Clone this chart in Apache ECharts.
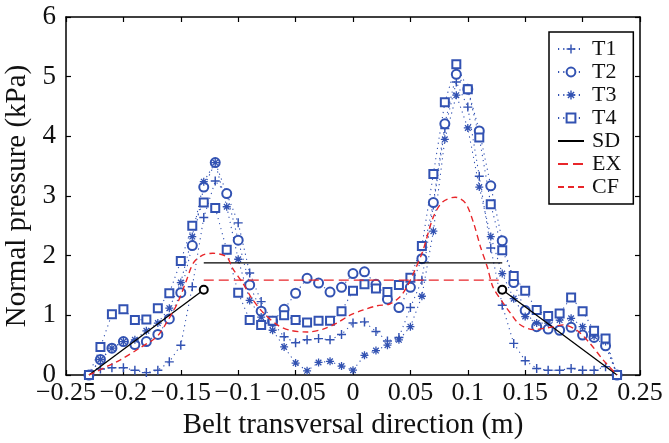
<!DOCTYPE html>
<html>
<head>
<meta charset="utf-8">
<script src="https://cdn.jsdelivr.net/npm/echarts@6/dist/echarts.min.js"></script>
<style>
  html, body { margin: 0; padding: 0; background: #fff; }
  #chart { width: 669px; height: 443px; }
</style>
</head>
<body>
<div id="chart"></div>
<script>
// Measurement positions across the belt (m)
const positions = [-0.23, -0.22, -0.21, -0.20, -0.19, -0.18, -0.17, -0.16, -0.15, -0.14,
  -0.13, -0.12, -0.11, -0.10, -0.09, -0.08, -0.07, -0.06, -0.05, -0.04, -0.03, -0.02, -0.01,
  0.00, 0.01, 0.02, 0.03, 0.04, 0.05, 0.06, 0.07, 0.08, 0.09, 0.10, 0.11, 0.12, 0.13,
  0.14, 0.15, 0.16, 0.17, 0.18, 0.19, 0.20, 0.21, 0.22, 0.23];

// Measured normal pressure (kPa), tests T1..T4
const t1 = [0, 0.10, 0.12, 0.12, 0.08, 0.04, 0.08, 0.22, 0.50, 1.48,
  2.64, 3.25, 3.04, 2.55, 1.71, 1.23, 0.88, 0.64, 0.54, 0.59, 0.61, 0.59, 0.68,
  0.87, 0.89, 0.73, 0.57, 0.63, 1.13, 1.59, 2.85, 4.13, 4.91, 4.49, 3.33, 2.13, 1.17,
  0.53, 0.24, 0.11, 0.08, 0.08, 0.11, 0.08, 0.08, 0.14, 0];
const t2 = [0, 0.26, 0.45, 0.56, 0.51, 0.56, 0.68, 0.94, 1.38, 2.17,
  3.15, 3.56, 3.04, 2.26, 1.51, 1.07, 0.90, 1.10, 1.37, 1.62, 1.54, 1.39, 1.47,
  1.70, 1.73, 1.52, 1.27, 1.13, 1.47, 1.95, 2.89, 4.21, 5.04, 4.79, 4.09, 3.17, 2.25,
  1.55, 1.08, 0.81, 0.77, 0.75, 0.80, 0.67, 0.63, 0.49, 0];
const t3 = [0, 0.26, 0.45, 0.56, 0.59, 0.74, 0.87, 1.12, 1.55, 2.32,
  3.24, 3.56, 2.82, 1.94, 1.25, 0.97, 0.75, 0.47, 0.20, 0.07, 0.21, 0.23, 0.15,
  0.08, 0.33, 0.41, 0.50, 0.59, 0.81, 1.32, 2.41, 3.95, 4.69, 4.14, 3.15, 2.32, 1.70,
  1.28, 0.98, 0.87, 0.87, 0.92, 0.95, 0.81, 0.65, 0.56, 0];
const t4 = [0, 0.47, 1.02, 1.10, 0.92, 0.93, 1.12, 1.37, 1.91, 2.50,
  2.89, 2.80, 2.10, 1.38, 0.92, 0.84, 0.91, 1.00, 0.92, 0.88, 0.91, 0.91, 1.07,
  1.41, 1.52, 1.45, 1.39, 1.51, 1.63, 2.16, 3.37, 4.57, 5.21, 4.79, 3.98, 2.86, 2.09,
  1.66, 1.41, 1.09, 0.99, 1.03, 1.30, 1.07, 0.74, 0.61, 0];

// CF curve samples
const cfX = [-0.23, -0.203, -0.186, -0.171, -0.162, -0.153, -0.145, -0.139, -0.131, -0.122,
  -0.11, -0.105, -0.096, -0.088, -0.078, -0.066, -0.055, -0.04, -0.026, -0.014, -0.003,
  0.009, 0.021, 0.032, 0.041, 0.047, 0.054, 0.061, 0.07, 0.078, 0.089, 0.098, 0.105,
  0.111, 0.117, 0.122, 0.131, 0.137, 0.145, 0.157, 0.172, 0.183, 0.195, 0.206, 0.218, 0.23];
const cfY = [0, 0.25, 0.45, 0.64, 0.89, 1.2, 1.59, 1.88, 2.01, 2.04,
  1.98, 1.79, 1.54, 1.28, 1.04, 0.84, 0.75, 0.72, 0.77, 0.87, 1.0,
  1.09, 1.16, 1.19, 1.31, 1.48, 1.76, 2.09, 2.65, 2.9, 2.98, 2.88, 2.55,
  2.15, 1.81, 1.47, 1.2, 1.04, 0.85, 0.76, 0.8, 0.84, 0.75, 0.54, 0.25, 0];

// SD: edge slopes and plateau; EX: plateau level
const sdEdgeX = [-0.23, -0.13, 0.13, 0.23];
const sdEdgeY = [0, 1.43, 1.43, 0];
const plateauX = [-0.13, 0.13];
const sdLevel = 1.88;
const exLevel = 1.59;

const seriesNames = ['T1', 'T2', 'T3', 'T4', 'SD', 'EX', 'CF'];
const xRange = [-0.25, 0.25];
const yRange = [0, 6];

const BLUE = '#3252b2';
const RED = '#e8262a';
const FONT = '"Liberation Serif", "Times New Roman", serif';

const plusPath = 'path://M4.2,0H5.8V4.2H10V5.8H5.8V10H4.2V5.8H0V4.2H4.2Z';
const starPath = 'path://M0,4.2H10V5.8H0Z M4.2,0H5.8V10H4.2Z ' +
  'M0.93,2.07L2.07,0.93L9.07,7.93L7.93,9.07Z M7.93,0.93L9.07,2.07L2.07,9.07L0.93,7.93Z';

function pairs(xs, ys) { return xs.map((x, i) => [x, ys[i]]); }

function testSeries(name, values, symbol, size) {
  return {
    name, type: 'line', data: pairs(positions, values),
    symbol, symbolSize: size, showAllSymbol: true,
    itemStyle: symbol.startsWith('empty')
      ? { color: BLUE, borderColor: BLUE, borderWidth: 1.2 }
      : { color: BLUE, borderWidth: 0 },
    lineStyle: { color: BLUE, width: 1.1, type: [1.2, 4] },
    emphasis: { disabled: true }, z: 3
  };
}

function fmtX(v) {
  const r = parseFloat(Math.abs(v).toFixed(2));
  return (v < -1e-9 ? '\u2212' : '') + r;
}

const circleMark = { symbol: 'emptyCircle', symbolSize: 8 };
const frameLine = { onZero: false, lineStyle: { color: '#000', width: 1.5 } };
const frameTick = { inside: true, length: 5, lineStyle: { color: '#000', width: 1.2 } };
const hiddenMark = { itemStyle: { opacity: 0 } };

const option = {
  backgroundColor: '#fff',
  animation: false,
  grid: { left: 66, right: 29, top: 17, bottom: 68, containLabel: false, outerBoundsMode: 'none' },
  xAxis: [{
    type: 'value', min: xRange[0], max: xRange[1], interval: 0.05,
    name: 'Belt transversal direction (m)', nameLocation: 'middle', nameGap: 36,
    nameTextStyle: { fontFamily: FONT, fontSize: 29, color: '#111' },
    axisLine: frameLine, axisTick: frameTick,
    axisLabel: { formatter: fmtX, fontFamily: FONT, fontSize: 26, color: '#111', margin: 5,
      hideOverlap: false, showMinLabel: true, showMaxLabel: true },
    splitLine: { show: false }
  }, {
    type: 'value', position: 'top', min: xRange[0], max: xRange[1], interval: 0.05,
    axisLine: frameLine, axisTick: frameTick,
    axisLabel: { show: false }, splitLine: { show: false }
  }],
  yAxis: [{
    type: 'value', min: yRange[0], max: yRange[1], interval: 1,
    name: 'Normal pressure (kPa)', nameLocation: 'middle', nameGap: 27,
    nameTextStyle: { fontFamily: FONT, fontSize: 29, color: '#111' },
    axisLine: Object.assign({ show: true }, frameLine),
    axisTick: Object.assign({ show: true }, frameTick),
    axisLabel: { fontFamily: FONT, fontSize: 27, color: '#111', margin: 10,
      showMinLabel: true, showMaxLabel: true },
    splitLine: { show: false }
  }, {
    type: 'value', position: 'right', min: yRange[0], max: yRange[1], interval: 1,
    axisLine: Object.assign({ show: true }, frameLine),
    axisTick: Object.assign({ show: true }, frameTick),
    axisLabel: { show: false }, splitLine: { show: false }
  }],
  legend: {
    data: seriesNames.map(n => (n === 'SD' || n === 'EX' || n === 'CF')
      ? Object.assign({ name: n }, hiddenMark) : { name: n }),
    orient: 'vertical', left: 549, top: 32,
    backgroundColor: '#fff', borderColor: '#000', borderWidth: 1.5, borderRadius: 0,
    padding: [6, 12, 6, 8],
    itemWidth: 26, itemHeight: 11, itemGap: 1,
    textStyle: { fontFamily: FONT, fontSize: 22, lineHeight: 22, color: '#111', padding: [0, 0, 0, 3] },
    selectedMode: false
  },
  series: [
    testSeries('T1', t1, plusPath, 9),
    testSeries('T2', t2, 'emptyCircle', 9),
    testSeries('T3', t3, starPath, 8),
    testSeries('T4', t4, 'emptyRect', 8),
    {
      name: 'SD', type: 'line', symbol: 'none',
      data: plateauX.map(x => [x, sdLevel]),
      lineStyle: { color: '#000', width: 1.3, type: 'solid' }, itemStyle: { color: '#000' },
      emphasis: { disabled: true }, z: 4
    },
    {
      name: 'SD', type: 'line', symbol: 'none',
      data: [[sdEdgeX[0], sdEdgeY[0]], Object.assign({ value: [sdEdgeX[1], sdEdgeY[1]] }, circleMark)],
      itemStyle: { color: '#000', borderColor: '#000', borderWidth: 1.5 },
      lineStyle: { color: '#000', width: 1.3 }, emphasis: { disabled: true }, z: 4
    },
    {
      name: 'SD', type: 'line', symbol: 'none',
      data: [Object.assign({ value: [sdEdgeX[2], sdEdgeY[2]] }, circleMark), [sdEdgeX[3], sdEdgeY[3]]],
      itemStyle: { color: '#000', borderColor: '#000', borderWidth: 1.5 },
      lineStyle: { color: '#000', width: 1.3 }, emphasis: { disabled: true }, z: 4
    },
    {
      name: 'EX', type: 'line', symbol: 'none',
      data: plateauX.map(x => [x, exLevel]),
      lineStyle: { color: RED, width: 1.4, type: [10, 5] }, itemStyle: { color: RED },
      emphasis: { disabled: true }, z: 4
    },
    {
      name: 'CF', type: 'line', symbol: 'none', smooth: 0.3,
      data: pairs(cfX, cfY),
      lineStyle: { color: RED, width: 1.4, type: [6, 4] }, itemStyle: { color: RED },
      emphasis: { disabled: true }, z: 4
    }
  ]
};

const chart = echarts.init(document.getElementById('chart'), null, { renderer: 'canvas' });
chart.setOption(option);
</script>
</body>
</html>
